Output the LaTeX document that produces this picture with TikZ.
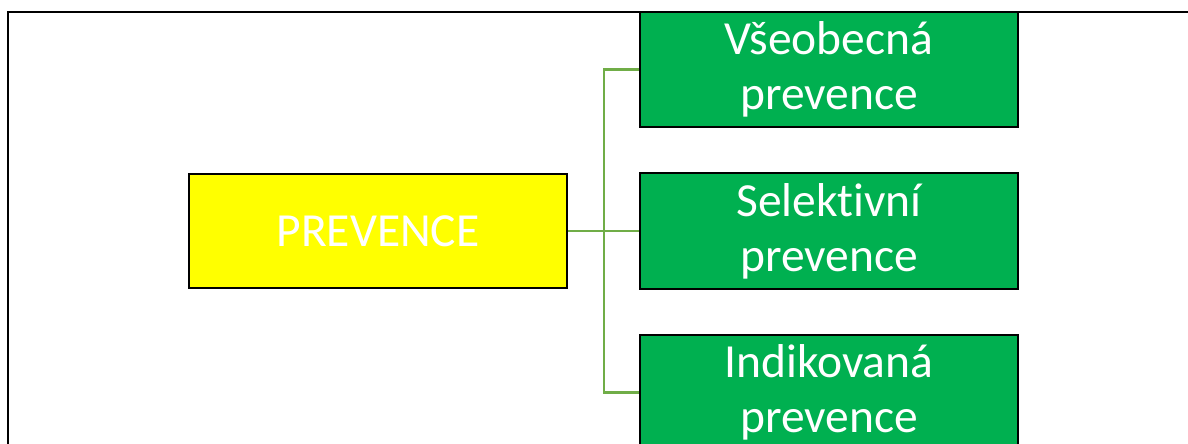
\documentclass[tikz,border=0pt]{standalone}
\usepackage{fontspec}
\setmainfont[Ligatures=NoCommon]{Carlito}
\definecolor{boxgreen}{HTML}{00B050}
\definecolor{linegreen}{HTML}{70AD47}
\definecolor{boxyellow}{HTML}{FFFF00}
\begin{document}
\begin{tikzpicture}[x=1pt,y=-1pt,
  box/.style={draw=black,line width=2.2pt,rectangle,minimum width=378pt,inner sep=0pt,
    text=white,align=center,font=\fontsize{47.5}{55}\selectfont},
  conn/.style={draw=linegreen,line width=2.6pt}]
\clip (0,0) rectangle (1188,444);
\fill[white] (0,0) rectangle (1188,444);
\draw[line width=2pt] (7.5,450) -- (7.5,12) -- (1195,12);
\node[box,fill=boxyellow,minimum height=114pt] (prev) at (378,231) {PREVENCE};
\node[box,fill=boxgreen,minimum height=115pt] (b1) at (829,69.5) {Všeobecná\\prevence};
\node[box,fill=boxgreen,minimum height=116pt] (b2) at (829,231) {Selektivní\\prevence};
\node[box,fill=boxgreen,minimum height=115pt] (b3) at (829,392.5) {Indikovaná\\prevence};
\coordinate (j) at (604,231);
\draw[conn] (prev.east) -- (b2.west);
\draw[conn] (j) |- (b1.west);
\draw[conn] (j) |- (b3.west);
\end{tikzpicture}
\end{document}
